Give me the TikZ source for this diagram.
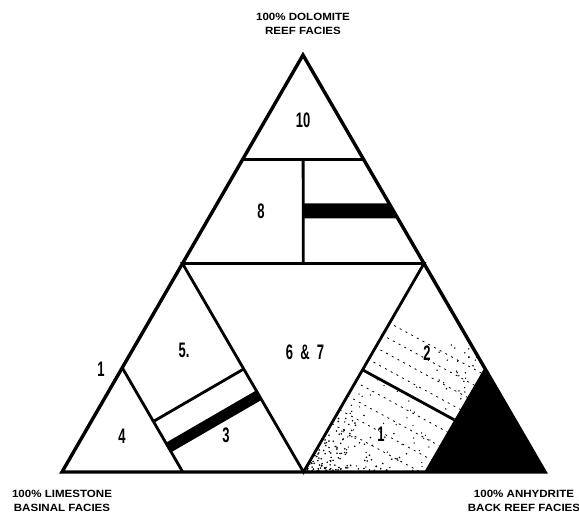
\documentclass[tikz,border=0pt]{standalone}
\usepackage{fontspec}
\setmainfont{Liberation Sans}
\usetikzlibrary{calc}

\begin{document}
\begin{tikzpicture}[
		x=1pt, y=-1pt,
		edge/.style={line width=3.4pt, line join=miter},
		part/.style={line width=2.8pt},
		num/.style={font=\fontsize{21}{21}\selectfont\bfseries, xscale=0.62, inner sep=0pt},
		facies/.style={font=\fontsize{10.5}{13.5}\selectfont\bfseries, xscale=1.1, align=center, inner sep=0pt},
		stip/.style={line width=0.8pt, dash pattern=on 2pt off 4.5pt}
	]
		\useasboundingbox (0,0) rectangle (579,518);

		% ===== Corners and subdivision points =====
		\coordinate (A) at (62,472);   % limestone
		\coordinate (B) at (545,472);  % anhydrite
		\coordinate (C) at (303,55);   % dolomite
		\coordinate (mAC) at ($(A)!0.5!(C)$);
		\coordinate (mBC) at ($(B)!0.5!(C)$);
		\coordinate (mAB) at ($(A)!0.5!(B)$);
		\coordinate (T1) at ($(C)!0.25!(A)$);
		\coordinate (T2) at ($(C)!0.25!(B)$);
		\coordinate (V1) at ($(T1)!0.5!(T2)$);
		\coordinate (V2) at ($(mAC)!0.5!(mBC)$);
		\coordinate (P1) at ($(A)!0.25!(C)$);
		\coordinate (P2) at ($(A)!0.25!(B)$);
		\coordinate (Q1) at ($(B)!0.25!(C)$);
		\coordinate (Q2) at ($(B)!0.25!(A)$);
		\coordinate (D1) at ($(mBC)!0.51!(mAB)$);
		\coordinate (D2) at ($(Q1)!0.5!(Q2)$);
		\coordinate (E1) at ($(D1)!-1!(D2)$);
		\coordinate (E2) at ($(D1)!2!(D2)$);

		% ===== Stippled fields 2 and 1 =====
		\pgfmathsetseed{4711}
		\begin{scope}
			\clip (mBC) -- (Q1) -- (D2) -- (D1) -- cycle;
			\foreach \k in {12,26,40,54}
				\draw[stip] ([shift={(0.487*\k,-0.874*\k)}]E1) -- ([shift={(0.487*\k,-0.874*\k)}]E2);
			\foreach \i in {1,...,40}
				\fill ({480-70*rnd*rnd}, {420-75*rnd}) circle (0.8);
		\end{scope}
		\begin{scope}
			\clip (D1) -- (D2) -- (Q2) -- (mAB) -- cycle;
			\foreach \k in {14,30,46,62}
				\draw[stip] ([shift={(-0.487*\k,0.874*\k)}]E1) -- ([shift={(-0.487*\k,0.874*\k)}]E2);
			\foreach \i in {1,...,170}
				\fill ({306+110*rnd*rnd}, {472-70*rnd*rnd}) circle (0.9);
			\foreach \i in {1,...,50}
				\fill ({340+90*rnd}, {472-100*rnd}) circle (0.7);
		\end{scope}

		% ===== Solid fields =====
		\fill (B) -- (Q1) -- (Q2) -- cycle;
		\fill ($(V1)!0.424!(V2)$) -- ($(C)!0.356!(B)$) -- ($(C)!0.392!(B)$) -- ($(V1)!0.568!(V2)$) -- cycle;
		\fill ($(P1)!0.72!(P2)$) -- ($(mAC)!0.609!(mAB)$) -- ($(mAC)!0.654!(mAB)$) -- ($(P1)!0.81!(P2)$) -- cycle;

		% ===== Field boundaries =====
		\draw[part] (T1) -- (T2);
		\draw[part] (V1) -- (V2);
		\draw[part] (mAC) -- (mBC) -- (mAB) -- cycle;
		\draw[part] (P1) -- (P2);
		\draw[part] ($(P1)!0.515!(P2)$) -- ($(mAC)!0.506!(mAB)$);
		\draw[part] (D1) -- (D2);
		\draw[edge] (A) -- (B) -- (C) -- cycle;

		% ===== Field numbers =====
		\node[num] (n10) at (303,120) {10};
		\node[num] (n8) at (261,211) {8};
		\node[num] (n5) at (184,350) {5.};
		\node[num] (n67) at (305,352) {6\hspace{0.55em}\&\hspace{0.55em}7};
		\node[num] (n2) at (427,353) {2};
		\node[num] (n1) at (381,434) {1};
		\node[num] (n3) at (226,435) {3};
		\node[num] (n4) at (122,436) {4};
		\node[num] (n1out) at (101,369) {1};

		% ===== End members =====
		\node[facies] (dolo) at (303,24) {100\% DOLOMITE\\REEF FACIES};
		\node[facies] (lime) at (62,501) {100\% LIMESTONE\\BASINAL FACIES};
		\node[facies] (anhy) at (524,501) {100\% ANHYDRITE\\BACK REEF FACIES};
	\end{tikzpicture}
\end{document}
